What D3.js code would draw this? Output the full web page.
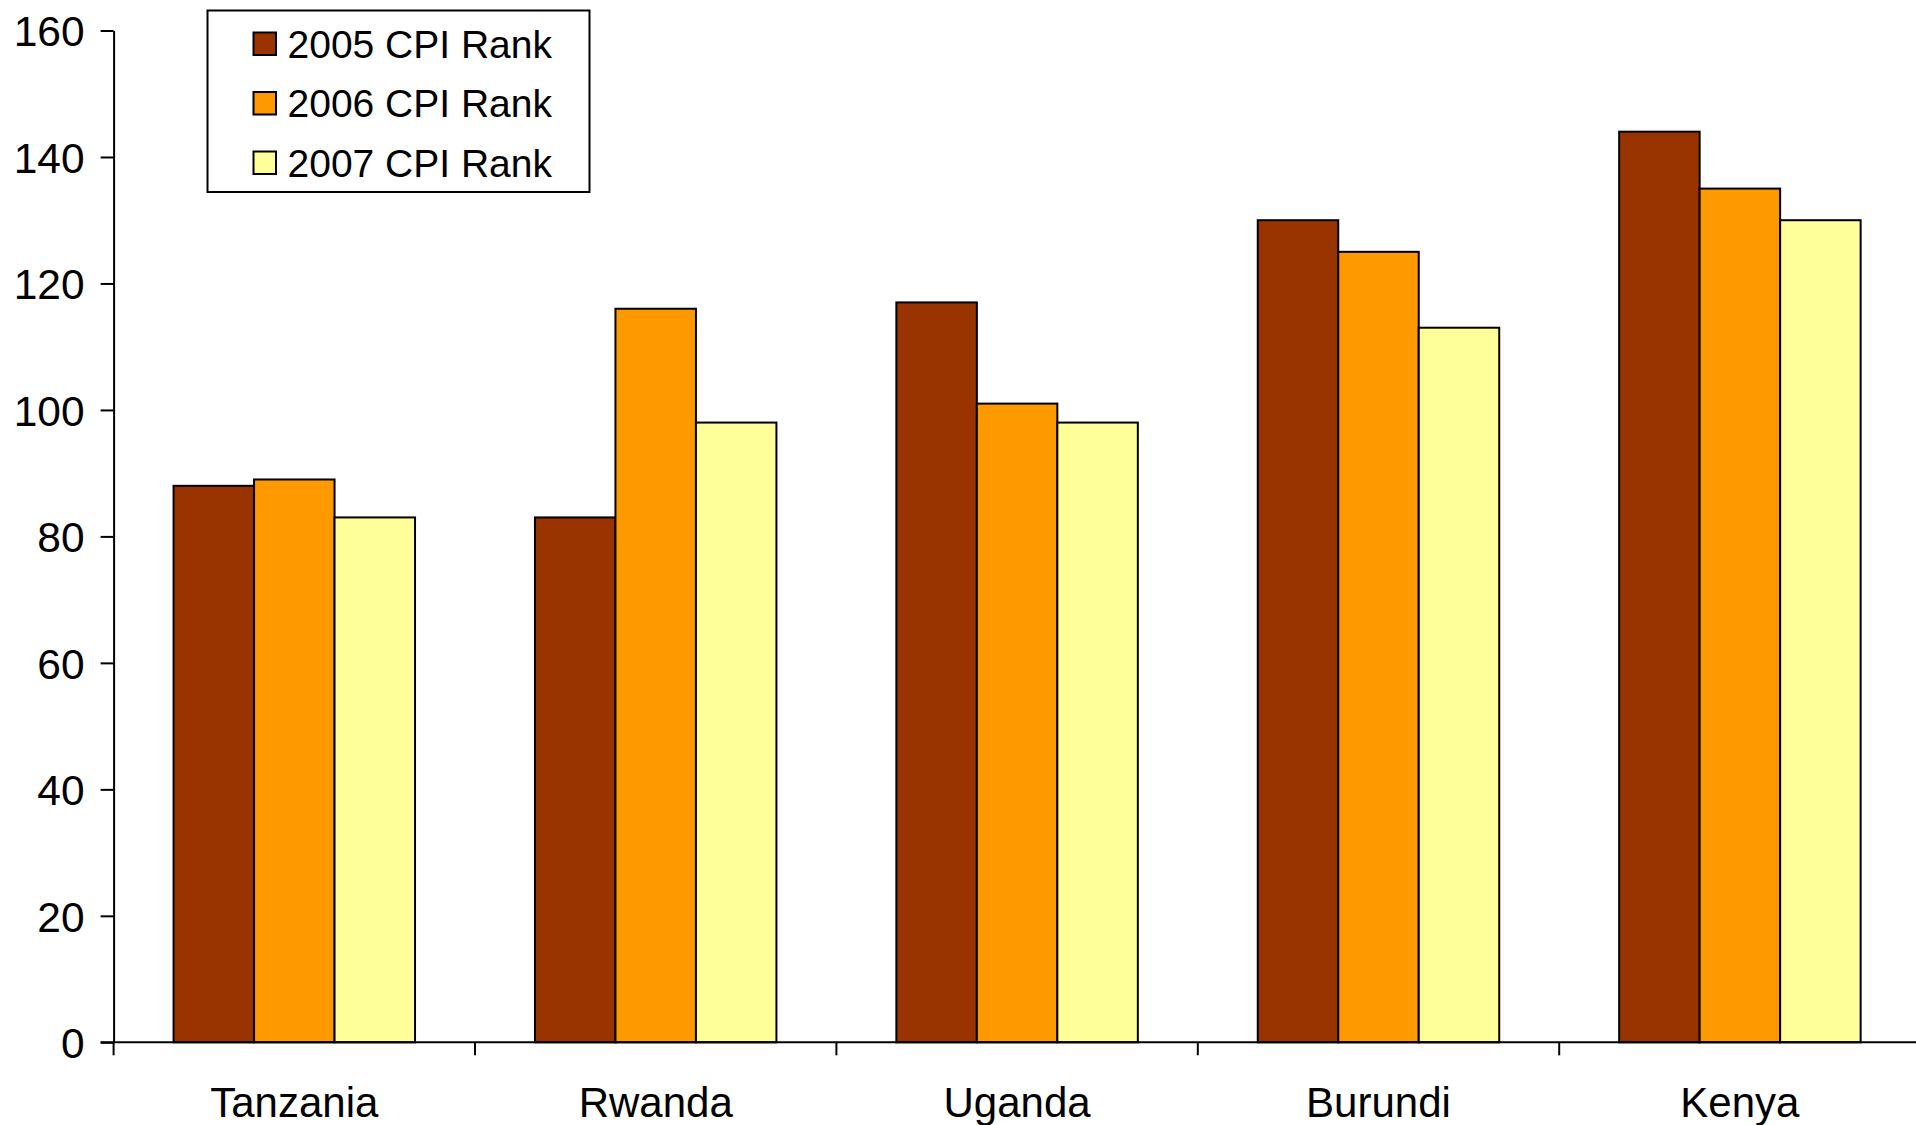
<!DOCTYPE html>
<html>
<head>
<meta charset="utf-8">
<script src="https://cdn.jsdelivr.net/npm/d3@7"></script>
<style>
  html, body { margin: 0; padding: 0; background: #fff; }
  svg { display: block; }
</style>
</head>
<body>
<svg id="chart" width="1916" height="1125"></svg>
<script>
// Corruption Perceptions Index rank by country, 2005-2007
const countries = ["Tanzania", "Rwanda", "Uganda", "Burundi", "Kenya"];
const seriesNames = ["2005 CPI Rank", "2006 CPI Rank", "2007 CPI Rank"];
const rank2005 = [88, 83, 117, 130, 144];
const rank2006 = [89, 116, 101, 125, 135];
const rank2007 = [83, 98, 98, 113, 130];
const seriesColors = ["#993300", "#FF9900", "#FFFF99"];
const yTicks = [0, 20, 40, 60, 80, 100, 120, 140, 160];

const seriesValues = [rank2005, rank2006, rank2007];
const rows = countries.map((c, i) => ({
  country: c,
  values: seriesNames.map((s, k) => ({ series: s, value: seriesValues[k][i], color: seriesColors[k] }))
}));

const svg = d3.select("#chart");
const font = "Liberation Sans, Arial, sans-serif";

const plotLeft = 113.6, plotTop = 30.5, plotBottom = 1042.3, step = 361.4;
const plotRight = plotLeft + step * countries.length;

const y = d3.scaleLinear().domain([0, 160]).range([plotBottom, plotTop]);
const x0 = d3.scaleBand().domain(countries).range([plotLeft, plotRight]).padding(0);
const x1 = d3.scaleBand().domain(seriesNames).range([0, x0.bandwidth()])
  .paddingInner(0).paddingOuter(0.745);

// Bars
const groups = svg.append("g").selectAll("g")
  .data(rows).join("g")
  .attr("transform", d => `translate(${x0(d.country)},0)`);

groups.selectAll("rect")
  .data(d => d.values).join("rect")
  .attr("x", d => x1(d.series))
  .attr("y", d => y(d.value))
  .attr("width", x1.bandwidth())
  .attr("height", d => y(0) - y(d.value))
  .attr("fill", d => d.color)
  .attr("stroke", "#000")
  .attr("stroke-width", 2);

// Y axis
const yAxis = svg.append("g")
  .attr("transform", `translate(${plotLeft},0)`)
  .call(d3.axisLeft(y).tickValues(yTicks).tickSize(13).tickPadding(16).tickSizeOuter(0));
yAxis.select(".domain").attr("stroke", "#000").attr("stroke-width", 2);
yAxis.selectAll(".tick line").attr("stroke", "#000").attr("stroke-width", 2);
yAxis.selectAll(".tick text")
  .attr("font-family", font).attr("font-size", 42.5).attr("fill", "#000")
  .attr("dy", "0.36em");

// X axis baseline and category separators
const xAxis = svg.append("g");
xAxis.append("line")
  .attr("x1", plotLeft - 13).attr("x2", plotRight)
  .attr("y1", y(0)).attr("y2", y(0))
  .attr("stroke", "#000").attr("stroke-width", 2);
const edges = countries.map(c => x0(c)).concat([plotRight]);
xAxis.selectAll("line.sep")
  .data(edges).join("line").attr("class", "sep")
  .attr("x1", d => d).attr("x2", d => d)
  .attr("y1", y(0)).attr("y2", y(0) + 13)
  .attr("stroke", "#000").attr("stroke-width", 2);
xAxis.selectAll("text")
  .data(countries).join("text")
  .attr("x", d => x0(d) + x0.bandwidth() / 2)
  .attr("y", 1117)
  .attr("text-anchor", "middle")
  .attr("font-family", font).attr("font-size", 42).attr("fill", "#000")
  .text(d => d);

// Legend
const legend = svg.append("g").attr("transform", "translate(207.5,10.5)");
legend.append("rect")
  .attr("width", 382).attr("height", 181.5)
  .attr("fill", "#fff").attr("stroke", "#000").attr("stroke-width", 2);
const items = legend.selectAll("g.item")
  .data(seriesNames).join("g").attr("class", "item")
  .attr("transform", (d, i) => `translate(46,${22 + i * 59.5})`);
items.append("rect")
  .attr("width", 22.5).attr("height", 22.5)
  .attr("fill", (d, i) => seriesColors[i])
  .attr("stroke", "#000").attr("stroke-width", 2);
items.append("text")
  .attr("x", 34).attr("y", 11.25).attr("dy", "0.36em")
  .attr("font-family", font).attr("font-size", 39).attr("fill", "#000")
  .text(d => d);
</script>
</body>
</html>
